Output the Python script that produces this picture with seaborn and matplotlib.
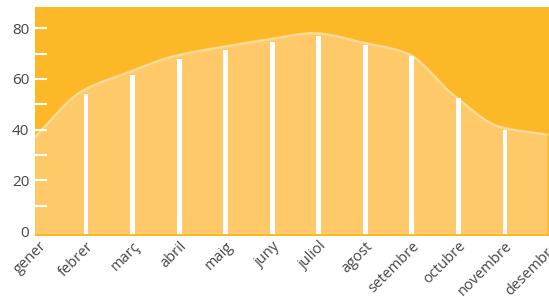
import numpy as np
import pandas as pd
import matplotlib
matplotlib.use("Agg")
import matplotlib.pyplot as plt
import seaborn as sns

months = ["gener", "febrer", "març", "abril", "maig", "juny", "juliol",
          "agost", "setembre", "octubre", "novembre", "desembre"]
values = [37, 55, 62.5, 69, 72.5, 75.5, 78, 74.5, 70, 53.5, 41, 38]
bar_months = months[1:-1]
bar_values = values[1:-1]
y_ticks = [0, 20, 40, 60, 80]
y_minor = [10, 20, 30, 40, 50, 60, 70, 80]

BG = "#FDB827"
AREA = "#FFC969"
LINE = "#FFDA95"
TEXT = "#444444"


def monotone_curve(x, y, n=40):
    x = np.asarray(x, float)
    y = np.asarray(y, float)
    h = np.diff(x)
    d = np.diff(y) / h
    m = np.zeros_like(y)
    m[0] = d[0]
    m[-1] = d[-1]
    for i in range(1, len(y) - 1):
        if d[i - 1] * d[i] <= 0:
            m[i] = 0
        else:
            m[i] = 3 * (h[i - 1] + h[i]) / ((2 * h[i] + h[i - 1]) / d[i - 1] + (h[i] + 2 * h[i - 1]) / d[i])
    xs, ys = [], []
    for i in range(len(x) - 1):
        t = np.linspace(0, 1, n, endpoint=(i == len(x) - 2))
        h00 = 2 * t**3 - 3 * t**2 + 1
        h10 = t**3 - 2 * t**2 + t
        h01 = -2 * t**3 + 3 * t**2
        h11 = t**3 - t**2
        xs.append(x[i] + t * h[i])
        ys.append(h00 * y[i] + h10 * h[i] * m[i] + h01 * y[i + 1] + h11 * h[i] * m[i + 1])
    return np.concatenate(xs), np.concatenate(ys)


sns.set_theme(style="white")
plt.rcParams["font.family"] = ["Open Sans", "DejaVu Sans"]

fig = plt.figure(figsize=(5.49, 2.97), dpi=100)
unit = 46.56
x0 = -0.102
x1 = 11.0
ax = fig.add_axes([34.7 / 549, (297 - 236) / 297, (x1 - x0) * unit / 549, (236 - 6.7) / 297])
ax.set_facecolor(BG)

pos = np.arange(len(months))
cx, cy = monotone_curve(pos - 0.1, values)
curve = pd.DataFrame({"x": cx, "y": cy})

ax.fill_between(curve["x"], -1, curve["y"], color=AREA, lw=0, zorder=1)
sns.lineplot(data=curve, x="x", y="y", ax=ax, color=LINE, lw=1.8, zorder=2, sort=False)

bar_pos = np.array([months.index(m) for m in bar_months])
ax.bar(bar_pos, bar_values, width=0.105, color="white", bottom=-1,
       zorder=3, linewidth=0)

ax.set_xlim(x0, x1)
ax.set_ylim(-1.97, 88.5)
ax.set_xticks(pos)
ax.set_xticklabels(months, rotation=45, ha="right", rotation_mode="anchor",
                   color=TEXT, fontsize=10.5)
ax.yaxis.remove_overlapping_locs = False
ax.set_yticks(y_ticks)
ax.set_yticklabels([str(v) for v in y_ticks], color=TEXT, fontsize=11)
ax.set_yticks(y_minor, minor=True)
ax.tick_params(axis="y", which="major", length=0, pad=4)
ax.tick_params(axis="y", which="minor", direction="in", length=8.8, width=1.5,
               color="white", left=True)
ax.tick_params(axis="x", length=0, pad=2)
for s in ax.spines.values():
    s.set_visible(False)
ax.set_xlabel("")
ax.set_ylabel("")
ax.set_axisbelow(False)
for t in ax.yaxis.get_minor_ticks():
    t.tick1line.set_zorder(5)

fig.savefig("out.png", dpi=100)
